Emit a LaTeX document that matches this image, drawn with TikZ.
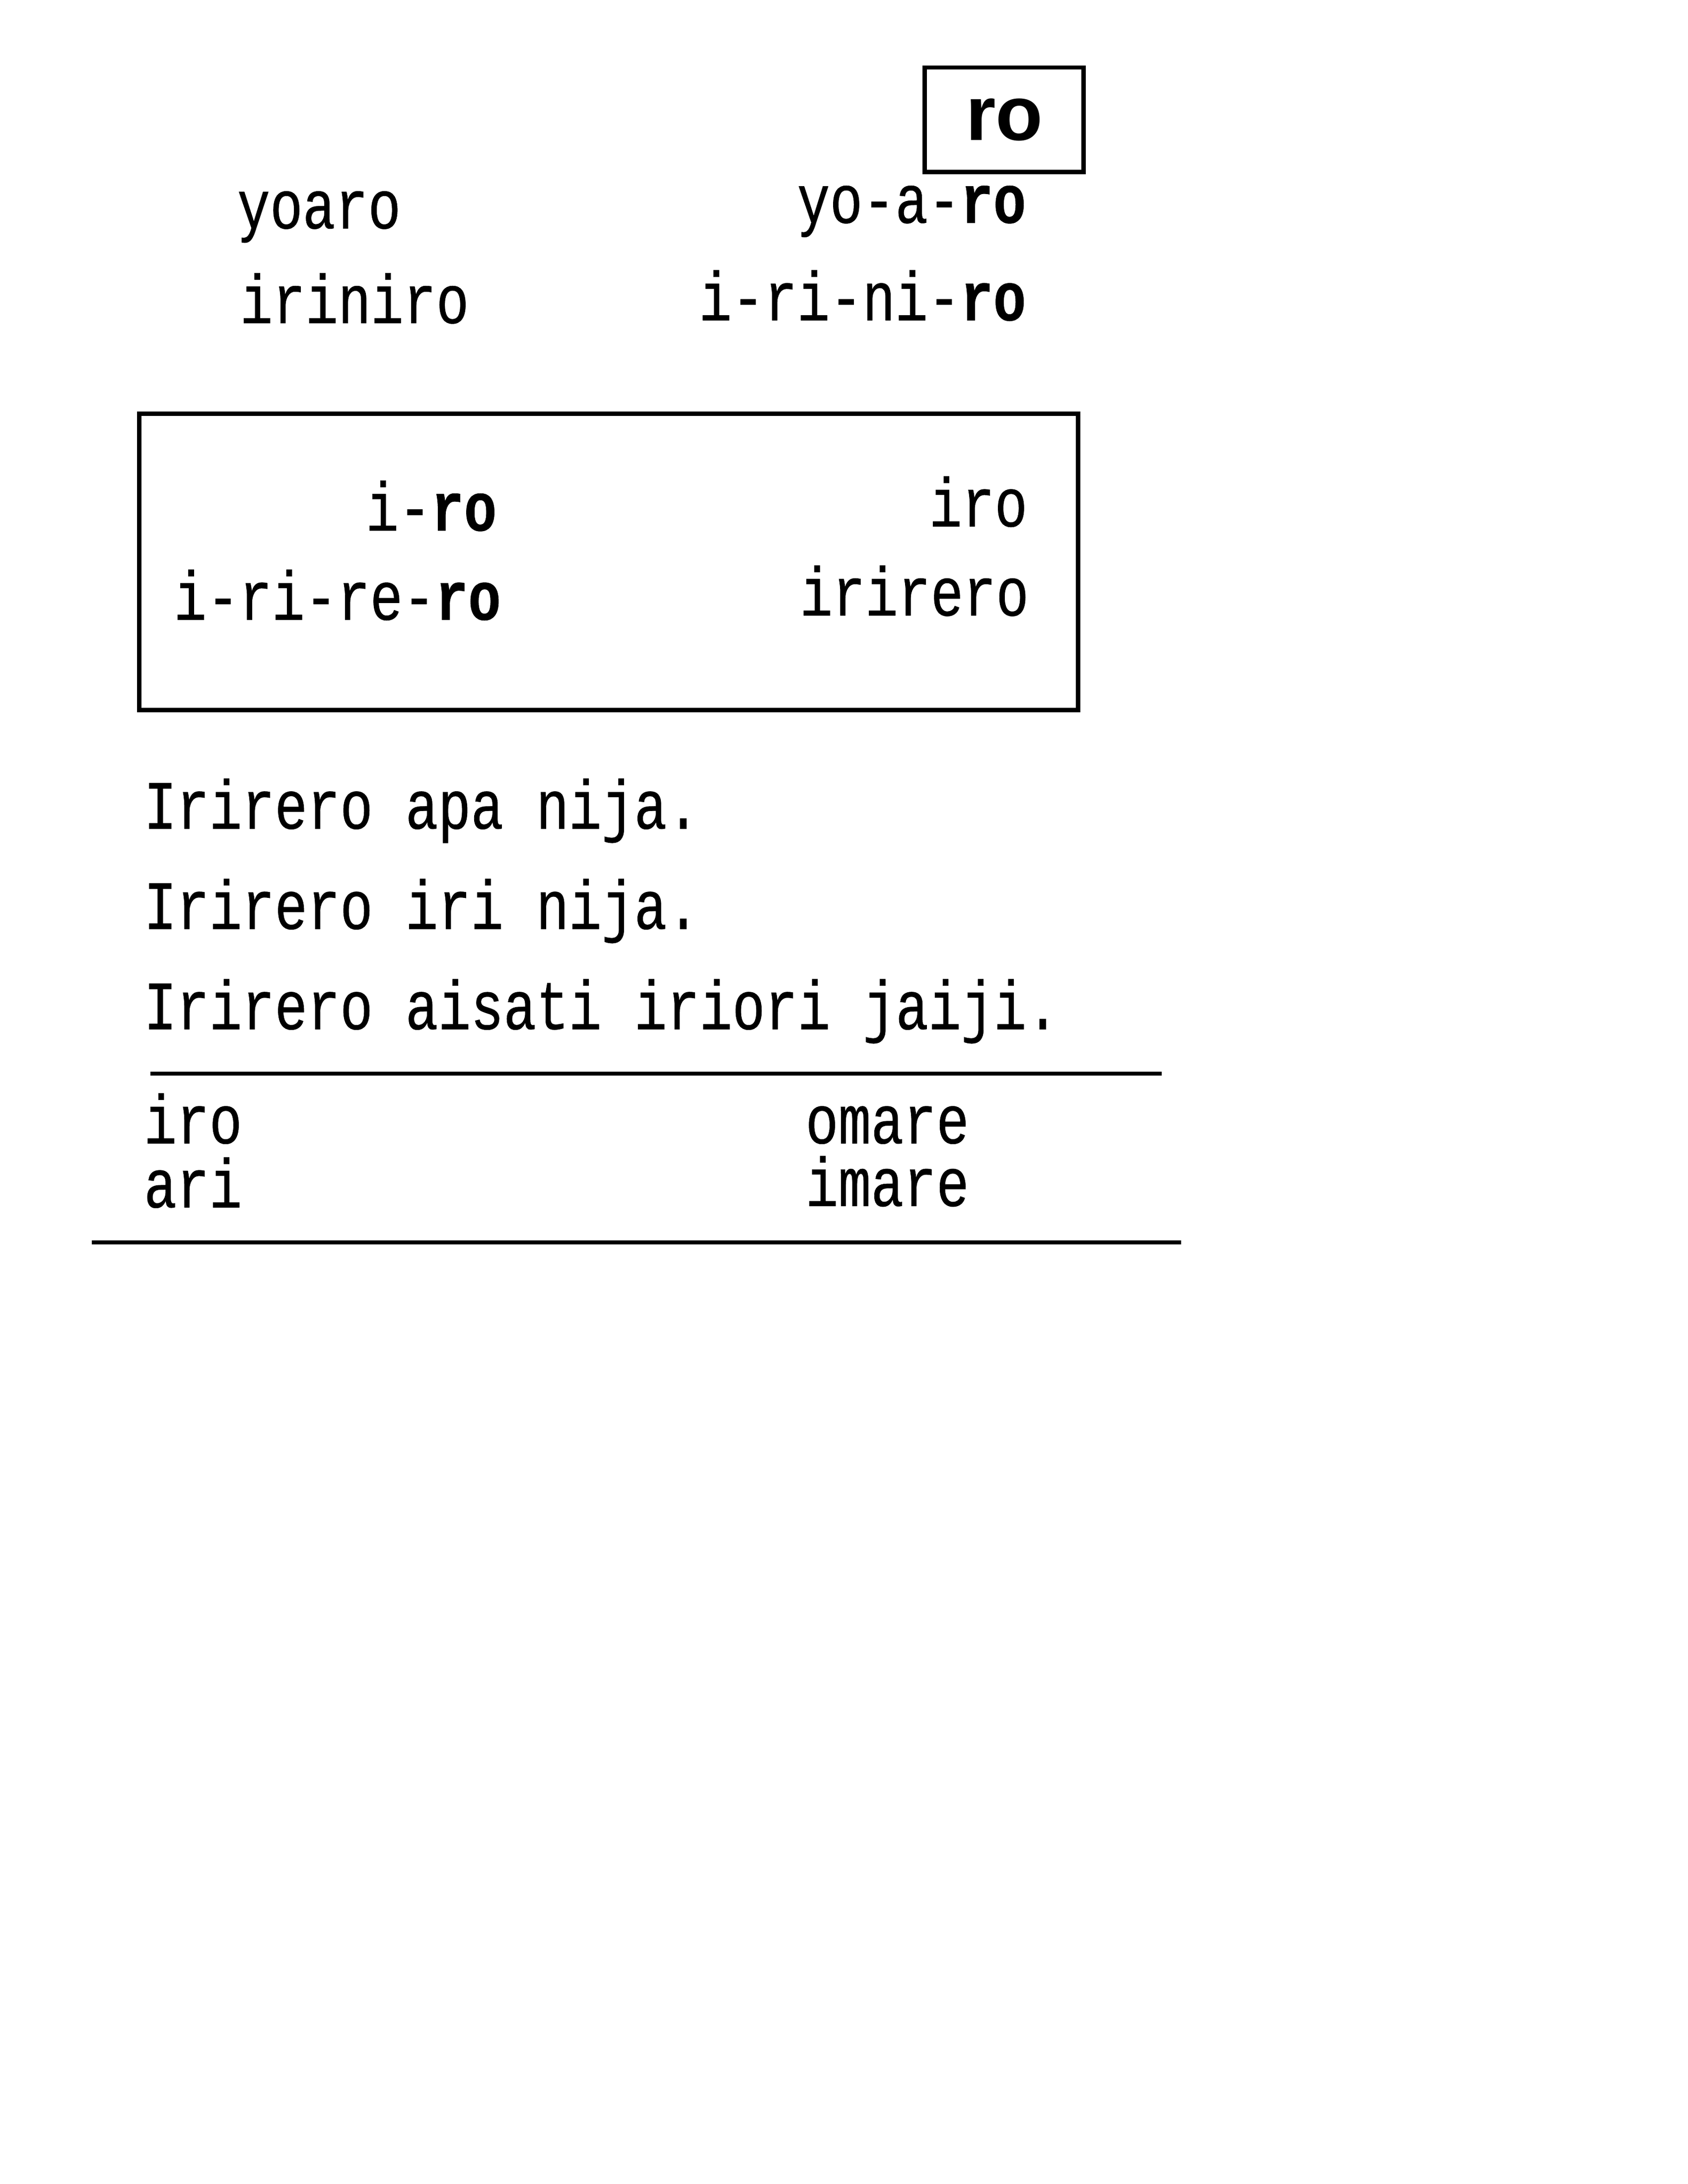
\documentclass[tikz,border=0pt]{standalone}
\usepackage{fontspec}
\setmonofont[FakeStretch=0.79,FakeBold=0.6]{Liberation Mono}
\newfontfamily\labelfont{Liberation Sans}

\begin{document}
\begin{tikzpicture}[%
  x=0.505pt,y=-0.505pt,
  word/.style={inner sep=0pt,font=\ttfamily\fontsize{25}{30}\selectfont},
  frame/.style={draw,line width=1.6pt},
  rule/.style={line width=1.45pt}]
\useasboundingbox (0,0) rectangle (612pt,-792pt);

\node[frame,minimum width=57.6pt,minimum height=37.9pt,
  font=\labelfont\bfseries\fontsize{28}{30}\selectfont] (syl) at (721,86) {ro};

\node[word,anchor=base west] (yoaro) at (170,164) {yoaro};
\node[word,anchor=base east] (yoaroS) at (737,160) {yo-a-\textbf{ro}};
\node[word,anchor=base west] (iriniro) at (172,232) {iriniro};
\node[word,anchor=base east] (irinirroS) at (737,230) {i-ri-ni-\textbf{ro}};

\draw[frame] (100,297) rectangle (774,510);
\node[word,anchor=base east] (iroS) at (357,381) {i-\textbf{ro}};
\node[word,anchor=base east] (iro) at (738,378) {iro};
\node[word,anchor=base east] (irireroS) at (360,445) {i-ri-re-\textbf{ro}};
\node[word,anchor=base east] (irirero) at (739,442) {irirero};

\node[word,anchor=base west] (s1) at (103,595) {Irirero apa nija.};
\node[word,anchor=base west] (s2) at (103,667) {Irirero iri nija.};
\node[word,anchor=base west] (s3) at (103,739) {Irirero aisati iriori jaiji.};

\draw[rule] (108,771) -- (834,771);
\node[word,anchor=base west] (w1) at (103,821) {iro};
\node[word,anchor=base west] (w2) at (578,821) {omare};
\node[word,anchor=base west] (w3) at (103,867) {ari};
\node[word,anchor=base west] (w4) at (578,866) {imare};
\draw[rule] (66,892) -- (848,892);
\end{tikzpicture}
\end{document}
